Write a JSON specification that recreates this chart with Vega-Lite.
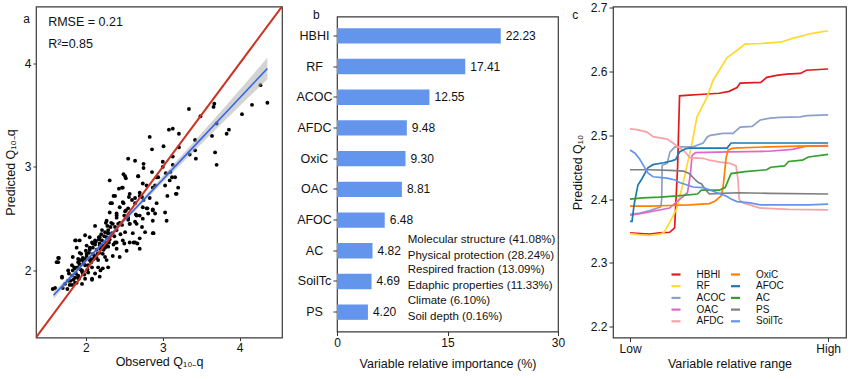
{
 "$schema": "https://vega.github.io/schema/vega-lite/v6.json",
 "padding": {"left": 3, "top": 0.5, "right": 3, "bottom": 4},
 "config": {
  "font": "Liberation Sans",
  "view": {"stroke": "#3a3a3a", "strokeWidth": 1.2},
  "axis": {"grid": false, "domain": false, "labelFontSize": 12, "titleFontSize": 12.5, "labelColor": "#111", "titleColor": "#111", "titleFontWeight": "normal", "tickColor": "#333", "tickSize": 4},
  "title": {"fontSize": 12, "fontWeight": "normal", "anchor": "start", "frame": "bounds", "color": "#111"},
  "concat": {"spacing": 4}
 },
 "hconcat": [
  {
   "width": 246, "height": 331,
   "title": {"text": "a", "offset": -19, "dx": 19},
   "layer": [
    {
     "data": {"values": [
      {"x":4.36,"y":3.62},{"x":4.27,"y":3.79},{"x":4.16,"y":3.60},{"x":4.03,"y":3.51},{"x":3.86,"y":3.36},{"x":3.83,"y":3.32},{"x":3.70,"y":3.02},{"x":3.68,"y":3.14},{"x":3.66,"y":3.58},{"x":3.67,"y":3.61},{"x":3.64,"y":3.30},{"x":3.70,"y":3.42},{"x":3.49,"y":3.49},{"x":3.34,"y":3.56},{"x":3.42,"y":3.26},{"x":3.42,"y":3.16},{"x":3.43,"y":3.08},{"x":3.35,"y":3.12},{"x":3.21,"y":3.32},{"x":3.21,"y":3.19},{"x":3.13,"y":3.37},{"x":3.08,"y":3.36},{"x":3.01,"y":3.20},{"x":3.13,"y":3.10},{"x":3.13,"y":3.02},{"x":3.00,"y":3.05},{"x":3.00,"y":3.00},{"x":3.10,"y":2.95},{"x":3.04,"y":2.94},{"x":3.16,"y":2.90},{"x":3.09,"y":2.87},{"x":3.03,"y":2.82},{"x":3.20,"y":2.80},{"x":2.83,"y":3.29},{"x":2.86,"y":3.17},{"x":2.86,"y":2.95},{"x":2.75,"y":3.03},{"x":2.75,"y":2.99},{"x":2.68,"y":2.91},{"x":2.64,"y":3.06},{"x":2.55,"y":3.08},{"x":2.49,"y":2.93},{"x":2.52,"y":2.89},{"x":2.31,"y":2.87},{"x":2.43,"y":2.79},{"x":2.48,"y":2.80},{"x":2.74,"y":2.84},{"x":2.79,"y":2.82},{"x":2.87,"y":2.80},{"x":2.92,"y":2.90},
      {"x":2.38,"y":2.72},{"x":2.49,"y":2.65},{"x":2.32,"y":2.65},{"x":2.55,"y":2.60},{"x":2.40,"y":2.53},{"x":2.26,"y":2.46},{"x":2.64,"y":2.47},{"x":2.57,"y":2.45},{"x":2.70,"y":2.53},{"x":2.79,"y":2.60},{"x":2.87,"y":2.59},{"x":2.73,"y":2.42},{"x":2.88,"y":2.36},{"x":3.06,"y":2.72},{"x":3.17,"y":2.74},{"x":2.53,"y":2.19},{"x":2.67,"y":2.26},{"x":2.62,"y":2.27},{"x":2.50,"y":2.26},{"x":2.40,"y":2.27},{"x":2.22,"y":2.24},{"x":2.12,"y":2.43},{"x":1.99,"y":2.34},{"x":1.87,"y":2.29},{"x":1.64,"y":2.12},{"x":1.62,"y":2.08},{"x":1.69,"y":1.94},{"x":1.57,"y":1.82},{"x":2.08,"y":1.91},{"x":2.19,"y":2.00},{"x":2.29,"y":2.36},{"x":2.17,"y":2.32},
      {"x":2.51,"y":2.91},{"x":2.68,"y":2.91},{"x":2.94,"y":2.90},{"x":3.12,"y":2.90},{"x":3.18,"y":2.74},{"x":2.90,"y":2.82},{"x":2.70,"y":2.75},{"x":2.57,"y":2.74},{"x":2.47,"y":2.80},{"x":2.36,"y":2.72},{"x":2.56,"y":2.71},{"x":2.64,"y":2.70},{"x":2.73,"y":2.71},{"x":2.83,"y":2.70},{"x":2.92,"y":2.65},{"x":2.87,"y":2.58},{"x":2.81,"y":2.55},{"x":2.74,"y":2.61},{"x":2.64,"y":2.65},{"x":2.48,"y":2.66},{"x":2.44,"y":2.61},{"x":2.51,"y":2.57},{"x":2.34,"y":2.65},{"x":2.31,"y":2.56},{"x":2.40,"y":2.55},{"x":2.55,"y":2.51},{"x":2.66,"y":2.53},{"x":2.74,"y":2.50},{"x":2.90,"y":2.55},{"x":3.03,"y":2.56},{"x":3.05,"y":2.48},{"x":2.87,"y":2.48},{"x":2.66,"y":2.45},{"x":2.44,"y":2.46},{"x":2.35,"y":2.45},{"x":2.27,"y":2.48},{"x":2.21,"y":2.39},{"x":2.29,"y":2.39},{"x":2.40,"y":2.39},{"x":2.51,"y":2.37},{"x":2.61,"y":2.36},{"x":2.70,"y":2.31},{"x":2.87,"y":2.36},{"x":2.77,"y":2.37},{"x":2.48,"y":2.29},{"x":2.38,"y":2.27},{"x":2.27,"y":2.32},{"x":2.18,"y":2.32},{"x":2.12,"y":2.29},{"x":2.18,"y":2.24},{"x":2.29,"y":2.23},{"x":2.40,"y":2.21},{"x":2.57,"y":2.27},{"x":1.86,"y":2.29},{"x":2.05,"y":2.22},{"x":1.92,"y":2.17},{"x":2.01,"y":2.16},{"x":2.09,"y":2.16},{"x":2.18,"y":2.17},{"x":2.25,"y":2.13},{"x":2.14,"y":2.12},{"x":2.05,"y":2.10},{"x":1.96,"y":2.10},{"x":1.90,"y":2.08},{"x":1.99,"y":2.05},{"x":2.08,"y":2.03},{"x":2.16,"y":2.03},{"x":2.22,"y":2.02},{"x":2.29,"y":2.03},{"x":1.86,"y":2.02},{"x":1.95,"y":2.00},{"x":2.03,"y":1.98},{"x":2.12,"y":1.97},{"x":2.18,"y":1.94},{"x":1.82,"y":1.95},{"x":1.90,"y":1.93},{"x":1.99,"y":1.92},{"x":2.08,"y":1.92},{"x":1.77,"y":1.90},{"x":1.86,"y":1.88},{"x":1.95,"y":1.87},{"x":1.73,"y":1.87},{"x":1.82,"y":1.86},{"x":1.70,"y":1.83},{"x":1.60,"y":1.83},{"x":1.64,"y":2.08},{"x":1.65,"y":2.12},{"x":2.27,"y":2.10},{"x":2.35,"y":2.14},{"x":2.44,"y":2.13},{"x":2.64,"y":2.27},{"x":2.70,"y":2.21},{"x":2.25,"y":2.22},{"x":2.09,"y":2.26},{"x":2.01,"y":2.24},{"x":2.05,"y":2.32},{"x":1.92,"y":2.29},{"x":1.88,"y":2.22},{"x":1.83,"y":2.13},{"x":1.77,"y":2.00},{"x":1.69,"y":1.93},
      {"x":1.76,"y":1.82},{"x":1.78,"y":1.97},{"x":1.80,"y":1.90},{"x":1.82,"y":2.05},{"x":1.84,"y":1.91},{"x":1.85,"y":2.03},{"x":1.87,"y":1.97},{"x":1.88,"y":1.88},{"x":1.89,"y":2.03},{"x":1.90,"y":2.11},{"x":1.91,"y":1.92},{"x":1.92,"y":2.06},{"x":1.93,"y":2.01},{"x":1.94,"y":2.16},{"x":1.95,"y":1.99},{"x":1.96,"y":2.12},{"x":1.97,"y":2.07},{"x":1.98,"y":1.96},{"x":1.99,"y":2.11},{"x":2.00,"y":2.19},{"x":2.02,"y":2.01},{"x":2.04,"y":2.17},{"x":2.06,"y":2.11},{"x":2.08,"y":2.27},{"x":2.10,"y":2.11},{"x":2.12,"y":2.25},{"x":2.14,"y":2.20},{"x":2.16,"y":2.10},{"x":2.18,"y":2.26},{"x":2.20,"y":2.35},{"x":2.22,"y":2.16},{"x":2.24,"y":2.33},{"x":2.26,"y":2.27},{"x":2.28,"y":2.43},{"x":2.30,"y":2.27},{"x":2.32,"y":2.42},{"x":2.34,"y":2.36},{"x":2.36,"y":2.25},{"x":2.38,"y":2.42},{"x":2.40,"y":2.51},{"x":2.45,"y":2.35},{"x":2.50,"y":2.53},{"x":2.55,"y":2.49},{"x":2.60,"y":2.68},{"x":2.65,"y":2.54},{"x":2.70,"y":2.72},{"x":2.75,"y":2.68},{"x":2.80,"y":2.60},{"x":1.79,"y":1.86},{"x":1.83,"y":2.00},{"x":1.86,"y":1.93},{"x":1.90,"y":1.95},{"x":1.93,"y":2.10},{"x":1.96,"y":1.97},{"x":2.01,"y":2.14},{"x":2.03,"y":2.05},{"x":2.05,"y":2.20},{"x":2.07,"y":2.08},{"x":2.09,"y":2.22},{"x":2.11,"y":2.14},{"x":2.13,"y":2.28},{"x":2.15,"y":2.16},{"x":2.17,"y":2.30},{"x":2.19,"y":2.21},{"x":2.21,"y":2.29},{"x":2.23,"y":2.20},{"x":2.25,"y":2.37},{"x":2.27,"y":2.24},{"x":2.29,"y":2.36},{"x":2.31,"y":2.30},{"x":2.33,"y":2.46},{"x":2.37,"y":2.33},{"x":2.42,"y":2.45},{"x":2.47,"y":2.44},{"x":2.52,"y":2.58},{"x":2.57,"y":2.45}
     ]},
     "mark": {"type": "circle", "size": 15, "color": "#000", "opacity": 1},
     "encoding": {
      "x": {"field": "x", "type": "quantitative", "scale": {"domain": [1.352, 4.55], "nice": false, "zero": false}, "axis": {"values": [2, 3, 4], "format": "d", "title": "Observed Q₁₀₋q", "labelPadding": 2, "titlePadding": 2, "tickSize": 3}},
      "y": {"field": "y", "type": "quantitative", "scale": {"domain": [1.352, 4.55], "nice": false, "zero": false}, "axis": {"values": [2, 3, 4], "format": "d", "title": "Predicted Q₁₀₋q", "labelPadding": 2, "titlePadding": 7, "tickSize": 3}}
     }
    },
    {
     "data": {"name": "fit", "values": [
      {"x":1.58,"fit":1.760,"lo":1.725,"hi":1.795},
      {"x":1.8,"fit":1.933,"lo":1.908,"hi":1.958},
      {"x":2.0,"fit":2.091,"lo":2.071,"hi":2.111},
      {"x":2.3,"fit":2.327,"lo":2.311,"hi":2.343},
      {"x":2.6,"fit":2.564,"lo":2.544,"hi":2.584},
      {"x":3.0,"fit":2.879,"lo":2.849,"hi":2.909},
      {"x":3.4,"fit":3.194,"lo":3.149,"hi":3.239},
      {"x":3.8,"fit":3.509,"lo":3.444,"hi":3.574},
      {"x":4.1,"fit":3.746,"lo":3.661,"hi":3.831},
      {"x":4.36,"fit":3.951,"lo":3.846,"hi":4.056}
     ]},
     "mark": {"type": "area", "color": "#a8a8a8", "opacity": 0.5},
     "encoding": {
      "x": {"field": "x", "type": "quantitative", "scale": {"domain": [1.352, 4.55], "nice": false, "zero": false}},
      "y": {"field": "lo", "type": "quantitative", "scale": {"domain": [1.352, 4.55], "nice": false, "zero": false}},
      "y2": {"field": "hi"}
     }
    },
    {
     "data": {"name": "fit"},
     "mark": {"type": "line", "color": "#3366EE", "strokeWidth": 1.6},
     "encoding": {
      "x": {"field": "x", "type": "quantitative", "scale": {"domain": [1.352, 4.55], "nice": false, "zero": false}},
      "y": {"field": "fit", "type": "quantitative", "scale": {"domain": [1.352, 4.55], "nice": false, "zero": false}}
     }
    },
    {
     "data": {"values": [{"x": 1.352, "y": 1.352}, {"x": 4.55, "y": 4.55}]},
     "mark": {"type": "line", "color": "#CC3322", "strokeWidth": 2, "clip": true},
     "encoding": {
      "x": {"field": "x", "type": "quantitative", "scale": {"domain": [1.352, 4.55], "nice": false, "zero": false}},
      "y": {"field": "y", "type": "quantitative", "scale": {"domain": [1.352, 4.55], "nice": false, "zero": false}}
     }
    },
    {
     "data": {"values": [{"x": 1.51, "y": 4.40, "t": "RMSE = 0.21"}, {"x": 1.51, "y": 4.19, "t": "R²=0.85"}]},
     "mark": {"type": "text", "align": "left", "baseline": "middle", "fontSize": 12.5, "color": "#111"},
     "encoding": {
      "x": {"field": "x", "type": "quantitative", "scale": {"domain": [1.352, 4.55], "nice": false, "zero": false}},
      "y": {"field": "y", "type": "quantitative", "scale": {"domain": [1.352, 4.55], "nice": false, "zero": false}},
      "text": {"field": "t"}
     }
    }
   ]
  },
  {
   "spacing": 0,
   "vconcat": [
    {
     "width": 221, "height": 1,
     "view": {"stroke": null},
     "data": {"values": []},
     "mark": "point"
    },
    {
     "width": 221, "height": 315,
     "title": {"text": "b", "offset": -5, "dx": 25},
     "layer": [
      {
       "data": {"name": "imp", "values": [
        {"var": "HBHI", "imp": 22.23}, {"var": "RF", "imp": 17.41}, {"var": "ACOC", "imp": 12.55}, {"var": "AFDC", "imp": 9.48}, {"var": "OxiC", "imp": 9.30},
        {"var": "OAC", "imp": 8.81}, {"var": "AFOC", "imp": 6.48}, {"var": "AC", "imp": 4.82}, {"var": "SoilTc", "imp": 4.69}, {"var": "PS", "imp": 4.20}
       ]},
       "mark": {"type": "bar", "color": "#6495ED"},
       "encoding": {
        "y": {"field": "var", "type": "nominal", "sort": null, "scale": {"paddingInner": 0.5, "paddingOuter": 0.38}, "axis": {"title": null, "labelAlign": "center", "labelPadding": 19, "tickSize": 4, "labelFontSize": 12.5, "minExtent": 49}},
        "x": {"field": "imp", "type": "quantitative", "scale": {"domain": [0, 30], "nice": false}, "axis": {"values": [0, 15, 30], "title": "Variable relative importance (%)", "labelFlush": false, "labelPadding": 2, "titlePadding": 9}}
       }
      },
      {
       "data": {"name": "imp"},
       "mark": {"type": "text", "align": "left", "baseline": "middle", "dx": 5, "fontSize": 12, "color": "#111"},
       "encoding": {
        "y": {"field": "var", "type": "nominal", "sort": null},
        "x": {"field": "imp", "type": "quantitative"},
        "text": {"field": "imp", "type": "quantitative", "format": ".2f"}
       }
      },
      {
       "data": {"values": [
        {"var": "AC", "x": 9.6, "t": "Molecular structure (41.08%)|Physical protection (28.24%)"},
        {"var": "SoilTc", "x": 9.6, "t": "Respired fraction (13.09%)|Edaphic properties (11.33%)"},
        {"var": "PS", "x": 9.6, "t": "Climate (6.10%)|Soil depth (0.16%)"}
       ]},
       "mark": {"type": "text", "align": "left", "baseline": "middle", "lineBreak": "|", "lineHeight": 16, "dy": -11, "fontSize": 11.5, "color": "#111"},
       "encoding": {
        "y": {"field": "var", "type": "nominal", "sort": null},
        "x": {"field": "x", "type": "quantitative"},
        "text": {"field": "t"}
       }
      }
     ]
    }
   ]
  },
  {
   "width": 233, "height": 331,
   "title": {"text": "c", "offset": -20, "dx": 1},
   "data": {"values": [
    {"v":"HBHI","x":0,"y":2.347},{"v":"HBHI","x":0.05,"y":2.346},{"v":"HBHI","x":0.1,"y":2.345},{"v":"HBHI","x":0.15,"y":2.347},{"v":"HBHI","x":0.2,"y":2.348},{"v":"HBHI","x":0.225,"y":2.355},{"v":"HBHI","x":0.24,"y":2.45},{"v":"HBHI","x":0.25,"y":2.562},{"v":"HBHI","x":0.3,"y":2.563},{"v":"HBHI","x":0.35,"y":2.564},{"v":"HBHI","x":0.45,"y":2.566},{"v":"HBHI","x":0.5,"y":2.569},{"v":"HBHI","x":0.54,"y":2.575},{"v":"HBHI","x":0.556,"y":2.582},{"v":"HBHI","x":0.66,"y":2.583},{"v":"HBHI","x":0.69,"y":2.591},{"v":"HBHI","x":0.74,"y":2.594},{"v":"HBHI","x":0.79,"y":2.596},{"v":"HBHI","x":0.86,"y":2.597},{"v":"HBHI","x":0.89,"y":2.602},{"v":"HBHI","x":1,"y":2.604},
    {"v":"RF","x":0,"y":2.346},{"v":"RF","x":0.05,"y":2.344},{"v":"RF","x":0.1,"y":2.343},{"v":"RF","x":0.15,"y":2.345},{"v":"RF","x":0.17,"y":2.347},{"v":"RF","x":0.2,"y":2.363},{"v":"RF","x":0.237,"y":2.386},{"v":"RF","x":0.263,"y":2.419},{"v":"RF","x":0.313,"y":2.488},{"v":"RF","x":0.338,"y":2.529},{"v":"RF","x":0.389,"y":2.56},{"v":"RF","x":0.419,"y":2.586},{"v":"RF","x":0.49,"y":2.622},{"v":"RF","x":0.54,"y":2.633},{"v":"RF","x":0.58,"y":2.643},{"v":"RF","x":0.66,"y":2.644},{"v":"RF","x":0.76,"y":2.646},{"v":"RF","x":0.82,"y":2.652},{"v":"RF","x":0.92,"y":2.66},{"v":"RF","x":1,"y":2.664},
    {"v":"ACOC","x":0,"y":2.376},{"v":"ACOC","x":0.05,"y":2.378},{"v":"ACOC","x":0.1,"y":2.382},{"v":"ACOC","x":0.155,"y":2.388},{"v":"ACOC","x":0.16,"y":2.4},{"v":"ACOC","x":0.162,"y":2.453},{"v":"ACOC","x":0.187,"y":2.456},{"v":"ACOC","x":0.202,"y":2.474},{"v":"ACOC","x":0.227,"y":2.482},{"v":"ACOC","x":0.318,"y":2.482},{"v":"ACOC","x":0.369,"y":2.488},{"v":"ACOC","x":0.389,"y":2.497},{"v":"ACOC","x":0.404,"y":2.5},{"v":"ACOC","x":0.47,"y":2.503},{"v":"ACOC","x":0.52,"y":2.503},{"v":"ACOC","x":0.556,"y":2.513},{"v":"ACOC","x":0.616,"y":2.514},{"v":"ACOC","x":0.657,"y":2.524},{"v":"ACOC","x":0.707,"y":2.527},{"v":"ACOC","x":0.758,"y":2.528},{"v":"ACOC","x":0.859,"y":2.529},{"v":"ACOC","x":0.894,"y":2.531},{"v":"ACOC","x":1,"y":2.532},
    {"v":"OAC","x":0,"y":2.375},{"v":"OAC","x":0.05,"y":2.377},{"v":"OAC","x":0.116,"y":2.381},{"v":"OAC","x":0.2,"y":2.386},{"v":"OAC","x":0.237,"y":2.396},{"v":"OAC","x":0.29,"y":2.41},{"v":"OAC","x":0.305,"y":2.44},{"v":"OAC","x":0.313,"y":2.468},{"v":"OAC","x":0.33,"y":2.473},{"v":"OAC","x":0.5,"y":2.474},{"v":"OAC","x":0.7,"y":2.475},{"v":"OAC","x":0.82,"y":2.478},{"v":"OAC","x":0.89,"y":2.483},{"v":"OAC","x":1,"y":2.483},
    {"v":"AFDC","x":0,"y":2.51},{"v":"AFDC","x":0.035,"y":2.509},{"v":"AFDC","x":0.086,"y":2.505},{"v":"AFDC","x":0.116,"y":2.498},{"v":"AFDC","x":0.187,"y":2.494},{"v":"AFDC","x":0.217,"y":2.488},{"v":"AFDC","x":0.242,"y":2.482},{"v":"AFDC","x":0.268,"y":2.477},{"v":"AFDC","x":0.303,"y":2.465},{"v":"AFDC","x":0.37,"y":2.464},{"v":"AFDC","x":0.4,"y":2.461},{"v":"AFDC","x":0.455,"y":2.458},{"v":"AFDC","x":0.505,"y":2.456},{"v":"AFDC","x":0.535,"y":2.452},{"v":"AFDC","x":0.545,"y":2.43},{"v":"AFDC","x":0.551,"y":2.399},{"v":"AFDC","x":0.571,"y":2.394},{"v":"AFDC","x":0.657,"y":2.386},{"v":"AFDC","x":0.8,"y":2.384},{"v":"AFDC","x":1,"y":2.383},
    {"v":"OxiC","x":0,"y":2.389},{"v":"OxiC","x":0.1,"y":2.389},{"v":"OxiC","x":0.2,"y":2.39},{"v":"OxiC","x":0.3,"y":2.391},{"v":"OxiC","x":0.4,"y":2.393},{"v":"OxiC","x":0.43,"y":2.397},{"v":"OxiC","x":0.46,"y":2.405},{"v":"OxiC","x":0.47,"y":2.42},{"v":"OxiC","x":0.485,"y":2.465},{"v":"OxiC","x":0.495,"y":2.477},{"v":"OxiC","x":0.52,"y":2.48},{"v":"OxiC","x":0.7,"y":2.482},{"v":"OxiC","x":0.85,"y":2.483},{"v":"OxiC","x":1,"y":2.484},
    {"v":"AFOC","x":0,"y":2.365},{"v":"AFOC","x":0.01,"y":2.365},{"v":"AFOC","x":0.02,"y":2.39},{"v":"AFOC","x":0.03,"y":2.407},{"v":"AFOC","x":0.04,"y":2.422},{"v":"AFOC","x":0.06,"y":2.432},{"v":"AFOC","x":0.09,"y":2.449},{"v":"AFOC","x":0.116,"y":2.454},{"v":"AFOC","x":0.17,"y":2.457},{"v":"AFOC","x":0.21,"y":2.46},{"v":"AFOC","x":0.23,"y":2.462},{"v":"AFOC","x":0.25,"y":2.474},{"v":"AFOC","x":0.28,"y":2.479},{"v":"AFOC","x":0.3,"y":2.48},{"v":"AFOC","x":0.49,"y":2.48},{"v":"AFOC","x":0.51,"y":2.488},{"v":"AFOC","x":1,"y":2.488},
    {"v":"AC","x":0,"y":2.4},{"v":"AC","x":0.065,"y":2.402},{"v":"AC","x":0.15,"y":2.403},{"v":"AC","x":0.24,"y":2.405},{"v":"AC","x":0.34,"y":2.408},{"v":"AC","x":0.36,"y":2.414},{"v":"AC","x":0.45,"y":2.414},{"v":"AC","x":0.48,"y":2.418},{"v":"AC","x":0.5,"y":2.433},{"v":"AC","x":0.51,"y":2.44},{"v":"AC","x":0.58,"y":2.443},{"v":"AC","x":0.69,"y":2.446},{"v":"AC","x":0.71,"y":2.45},{"v":"AC","x":0.78,"y":2.452},{"v":"AC","x":0.8,"y":2.459},{"v":"AC","x":0.87,"y":2.461},{"v":"AC","x":0.9,"y":2.466},{"v":"AC","x":1,"y":2.47},
    {"v":"PS","x":0,"y":2.446},{"v":"PS","x":0.1,"y":2.446},{"v":"PS","x":0.2,"y":2.445},{"v":"PS","x":0.27,"y":2.444},{"v":"PS","x":0.3,"y":2.44},{"v":"PS","x":0.33,"y":2.43},{"v":"PS","x":0.345,"y":2.426},{"v":"PS","x":0.36,"y":2.424},{"v":"PS","x":0.38,"y":2.415},{"v":"PS","x":0.4,"y":2.408},{"v":"PS","x":0.46,"y":2.409},{"v":"PS","x":0.55,"y":2.41},{"v":"PS","x":0.7,"y":2.409},{"v":"PS","x":1,"y":2.408},
    {"v":"SoilTc","x":0,"y":2.477},{"v":"SoilTc","x":0.025,"y":2.472},{"v":"SoilTc","x":0.05,"y":2.462},{"v":"SoilTc","x":0.075,"y":2.449},{"v":"SoilTc","x":0.09,"y":2.441},{"v":"SoilTc","x":0.116,"y":2.435},{"v":"SoilTc","x":0.187,"y":2.433},{"v":"SoilTc","x":0.227,"y":2.43},{"v":"SoilTc","x":0.25,"y":2.426},{"v":"SoilTc","x":0.318,"y":2.419},{"v":"SoilTc","x":0.37,"y":2.418},{"v":"SoilTc","x":0.44,"y":2.41},{"v":"SoilTc","x":0.49,"y":2.404},{"v":"SoilTc","x":0.51,"y":2.4},{"v":"SoilTc","x":0.54,"y":2.396},{"v":"SoilTc","x":0.606,"y":2.394},{"v":"SoilTc","x":0.657,"y":2.391},{"v":"SoilTc","x":0.8,"y":2.391},{"v":"SoilTc","x":0.9,"y":2.391},{"v":"SoilTc","x":1,"y":2.392}
   ]},
   "mark": {"type": "line", "strokeWidth": 1.7},
   "encoding": {
    "x": {"field": "x", "type": "quantitative", "scale": {"domain": [-0.086, 1.09], "nice": false, "zero": false}, "axis": {"values": [0, 1], "labelExpr": "datum.value == 0 ? 'Low' : 'High'", "title": "Variable relative range", "labelPadding": 2, "titlePadding": 3}},
    "y": {"field": "y", "type": "quantitative", "scale": {"domain": [2.183, 2.702], "nice": false, "zero": false}, "axis": {"values": [2.2, 2.3, 2.4, 2.5, 2.6, 2.7], "format": ".1f", "title": "Predicted Q₁₀", "labelPadding": 2, "titlePadding": 6}},
    "color": {"field": "v", "type": "nominal",
     "scale": {"domain": ["HBHI", "RF", "ACOC", "OAC", "AFDC", "OxiC", "AFOC", "AC", "PS", "SoilTc"],
               "range": ["#E31A1C", "#FFD92F", "#8DA0CB", "#E066C8", "#F4A3A8", "#FF7F00", "#1F78B4", "#33A02C", "#7F7F7F", "#6495ED"]},
     "legend": {"title": null, "orient": "none", "legendX": 634, "legendY": 262, "columns": 2, "symbolType": "stroke", "symbolSize": 81, "symbolStrokeWidth": 2.2, "labelFontSize": 10, "labelOffset": 14.5, "columnPadding": 0.5, "rowPadding": 0.7, "padding": 0, "labelColor": "#111"}
    }
   }
  }
 ]
}
